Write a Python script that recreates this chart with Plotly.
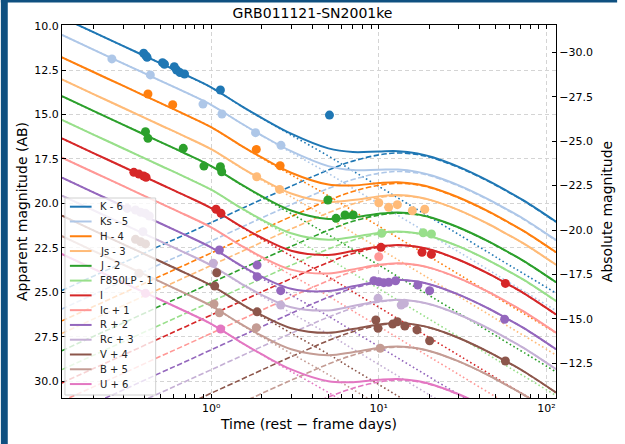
import numpy as np
import plotly.graph_objects as go

# ---------------- data ----------------
bands = ["K - 6", "Ks - 5", "H - 4", "Js - 3", "J - 2", "F850LP - 1", "I",
         "Ic + 1", "R + 2", "Rc + 3", "V + 4", "B + 5", "U + 6"]
colors = ["#1f77b4", "#aec7e8", "#ff7f0e", "#ffbb78", "#2ca02c", "#98df8a",
          "#d62728", "#ff9896", "#9467bd", "#c5b0d5", "#8c564b", "#c49c94",
          "#e377c2"]

# model sample times (rest-frame days)
model_t = [0.129, 0.2, 0.3, 0.5, 0.7, 1.0, 1.5, 2.0, 3.0, 5.0, 7.0, 10.0,
           13.0, 17.0, 21.0, 30.0, 46.0, 57.0, 73.0, 114.0]
# afterglow (dotted) of the K - 6 band, apparent mag
afterglow_k = [9.54, 10.38, 11.15, 12.12, 12.76, 13.47, 14.50, 15.20, 16.15,
               17.33, 18.17, 19.04, 19.69, 20.35, 20.87, 21.75, 22.81, 23.35,
               23.95, 25.05]
# supernova (dashed) of the K - 6 band, apparent mag
supernova_k = [24.90, 24.08, 23.33, 22.37, 21.75, 21.08, 20.32, 19.78, 19.03,
               18.12, 17.62, 17.27, 17.16, 17.25, 17.45, 17.98, 18.80, 19.28,
               19.85, 21.05]
# per-band shifts relative to the K - 6 band
afterglow_shift = [0.0, 0.98, 2.24, 3.48, 4.43, 5.76, 6.80, 7.88, 9.01,
                   10.02, 11.15, 12.30, 13.31]
supernova_shift = [0.0, 1.04, 1.71, 2.41, 3.39, 4.45, 5.20, 6.23, 7.16,
                   8.28, 9.60, 10.92, 12.78]

# observed points (t in days, apparent mag incl. offsets)
t_K = [0.396, 0.409, 0.415, 0.513, 0.527, 0.603, 0.622, 0.652, 0.694, 1.136, 5.08]
m_K = [11.55, 11.70, 11.78, 12.08, 12.17, 12.31, 12.49, 12.64, 12.72, 13.62, 15.03]
t_Ks = [0.256, 0.434, 0.894, 1.16, 1.84, 2.61]
m_Ks = [11.87, 12.77, 14.41, 14.97, 16.02, 16.73]
t_H = [0.42, 0.59, 1.86, 2.58]
m_H = [13.84, 14.45, 16.96, 17.88]
t_Js = [1.87, 2.56, 10.0, 11.45, 12.9, 15.85, 18.8]
m_Js = [18.50, 19.21, 19.96, 20.22, 20.07, 20.41, 20.33]
t_J = [0.406, 0.42, 0.682, 0.906, 1.136, 1.156, 4.97, 5.56, 6.29, 7.03]
m_J = [15.97, 16.34, 16.90, 17.90, 17.93, 18.22, 19.81, 20.84, 20.65, 20.65]
t_F850LP = [10.4, 18.4, 20.6]
m_F850LP = [21.68, 21.65, 21.72]
t_I = [0.346, 0.371, 0.396, 0.409, 1.07, 1.145, 10.3, 18.1, 20.6, 56.9]
m_I = [18.25, 18.35, 18.46, 18.53, 20.33, 20.56, 22.47, 22.75, 22.86, 24.50]
t_Ic = [10.0]
m_Ic = [23.0]
t_R = [1.12, 1.88, 1.88, 2.6, 9.35, 10.0, 10.7, 11.45, 12.6, 17.1, 20.1, 56.3]
m_R = [22.62, 23.47, 24.12, 24.91, 24.35, 24.41, 24.46, 24.44, 24.35, 24.59, 24.91, 26.52]
t_Rc = [0.316, 0.354, 0.38, 0.406, 0.428, 0.392, 1.03, 2.6, 9.9, 13.6, 14.2]
m_Rc = [20.28, 20.37, 20.50, 20.56, 20.71, 21.59, 23.37, 25.72, 25.34, 25.72, 25.62]
t_V = [0.354, 0.38, 0.406, 1.08, 1.05, 1.88, 9.6, 9.9, 12.1, 12.9, 14.3, 16.9, 20.1, 56.9]
m_V = [22.02, 22.16, 22.28, 23.90, 24.65, 26.10, 26.56, 27.03, 26.79, 26.66, 26.90, 27.12, 27.73, 28.87]
t_B = [0.371, 1.04, 1.12, 1.86, 10.2]
m_B = [23.93, 25.66, 26.15, 26.99, 28.15]
t_U = [0.406, 1.14]
m_U = [25.06, 27.07]

obs_t = [t_K, t_Ks, t_H, t_Js, t_J, t_F850LP, t_I, t_Ic, t_R, t_Rc, t_V, t_B, t_U]
obs_m = [m_K, m_Ks, m_H, m_Js, m_J, m_F850LP, m_I, m_Ic, m_R, m_Rc, m_V, m_B, m_U]

distance_modulus = 41.5
y_range = [30.95, 9.96]
x_ticks = [1, 10, 100]
x_ticktext = ["10\u2070", "10\u00b9", "10\u00b2"]
y_ticks = [10.0, 12.5, 15.0, 17.5, 20.0, 22.5, 25.0, 27.5, 30.0]
y2_ticks = [-30.0, -27.5, -25.0, -22.5, -20.0, -17.5, -15.0, -12.5]

# ---------------- figure ----------------
W, H = 625, 444
ML, MR, MT, MB = 62, 62, 25, 46
PW, PH = W - ML - MR, H - MT - MB

FONT = "DejaVu Sans"
GRID = "#d4d4d4"
fig = go.Figure()

ag_k = np.array(afterglow_k)
sn_k = np.array(supernova_k)

for i, band in enumerate(bands):
    ag = ag_k + afterglow_shift[i]
    sn = sn_k + supernova_shift[i]
    total = -2.5 * np.log10(10 ** (-0.4 * ag) + 10 ** (-0.4 * sn))
    c = colors[i]
    fig.add_trace(go.Scatter(x=model_t, y=sn, mode="lines", line_shape="spline",
                             line=dict(color=c, width=1.6, dash="5.5px,2.4px"),
                             showlegend=False, hoverinfo="skip"))
    fig.add_trace(go.Scatter(x=model_t, y=ag, mode="lines", line_shape="spline",
                             line=dict(color=c, width=1.6, dash="1.6px,2.6px"),
                             showlegend=False, hoverinfo="skip"))
    fig.add_trace(go.Scatter(x=model_t, y=total, mode="lines", line_shape="spline",
                             line=dict(color=c, width=2), name=band,
                             showlegend=False, hoverinfo="skip"))

for i, band in enumerate(bands):
    fig.add_trace(go.Scatter(x=obs_t[i], y=obs_m[i], mode="markers",
                             marker=dict(color=colors[i], size=9, line=dict(width=0)),
                             name=band, showlegend=False))

# invisible trace to anchor the absolute-magnitude axis
fig.add_trace(go.Scatter(x=[1], y=[-20], yaxis="y2", mode="markers",
                         marker=dict(opacity=0), showlegend=False, hoverinfo="skip"))

minor_vals = [v * 10.0 ** e for e in (-1, 0, 1) for v in range(2, 10)]

fig.update_layout(
    width=W, height=H,
    margin=dict(l=ML, r=MR, t=MT, b=MB),
    paper_bgcolor="white", plot_bgcolor="white",
    font=dict(family=FONT, size=11, color="black"),
    title=dict(text="GRB011121-SN2001ke", x=0.5, xanchor="center",
               y=1 - 13 / H, yanchor="middle", font=dict(size=14)),
    xaxis=dict(type="log", range=[np.log10(0.129), np.log10(114)],
               tickmode="array", tickvals=x_ticks, ticktext=x_ticktext,
               ticks="inside", ticklen=4, tickcolor="black",
               showline=True, linecolor="black", linewidth=1, mirror="allticks",
               showgrid=True, gridcolor=GRID, griddash="4px,3px", gridwidth=0.8,
               zeroline=False,
               minor=dict(tickmode="array", tickvals=minor_vals, ticks="inside",
                          ticklen=2, tickcolor="black", showgrid=False),
               title=dict(text="Time (rest \u2212 frame days)", font=dict(size=14),
                          standoff=4)),
    yaxis=dict(range=y_range, tickmode="array", tickvals=y_ticks,
               ticktext=["%.1f" % v for v in y_ticks],
               ticks="inside", ticklen=4, tickcolor="black",
               showline=True, linecolor="black", linewidth=1,
               showgrid=True, gridcolor=GRID, griddash="4px,3px", gridwidth=0.8,
               zeroline=False,
               title=dict(text="Apparent magnitude (AB)", font=dict(size=14),
                          standoff=3)),
    yaxis2=dict(overlaying="y", side="right",
                range=[y_range[0] - distance_modulus, y_range[1] - distance_modulus],
                tickmode="array", tickvals=y2_ticks,
                ticktext=["\u2212%.1f" % abs(v) for v in y2_ticks],
                ticks="inside", ticklen=4, tickcolor="black",
                showline=True, linecolor="black", linewidth=1,
                showgrid=False, zeroline=False,
                title=dict(text="Absolute magnitude", font=dict(size=14), standoff=10)),
)

# ---------------- legend (drawn by hand to match matplotlib spacing) ----------------
def px(xp):
    return (xp - ML) / PW

def py(yp):
    return (H - MB - yp) / PH

shapes = []
# blue page frame
shapes.append(dict(type="rect", xref="paper", yref="paper", x0=px(0), x1=px(7),
                   y0=py(H), y1=py(0), fillcolor="#0f5080", line=dict(width=0),
                   layer="above"))
shapes.append(dict(type="rect", xref="paper", yref="paper", x0=px(0), x1=px(W),
                   y0=py(2.5), y1=py(0), fillcolor="#0f5080", line=dict(width=0),
                   layer="above"))
# legend box
shapes.append(dict(type="rect", xref="paper", yref="paper", x0=px(65), x1=px(157),
                   y0=py(395), y1=py(198), fillcolor="rgba(255,255,255,0.8)",
                   line=dict(color="#d0d0d0", width=1), layer="above"))
annotations = []
for i, band in enumerate(bands):
    yy = 206.7 + i * 14.78
    shapes.append(dict(type="line", xref="paper", yref="paper", x0=px(70), x1=px(92),
                       y0=py(yy), y1=py(yy), line=dict(color=colors[i], width=2),
                       layer="above"))
    annotations.append(dict(text=band, xref="paper", yref="paper", x=px(99), y=py(yy),
                            xanchor="left", yanchor="middle", showarrow=False,
                            font=dict(size=10, color="#222")))
fig.update_layout(shapes=shapes, annotations=annotations)

fig.write_html("out.html")
